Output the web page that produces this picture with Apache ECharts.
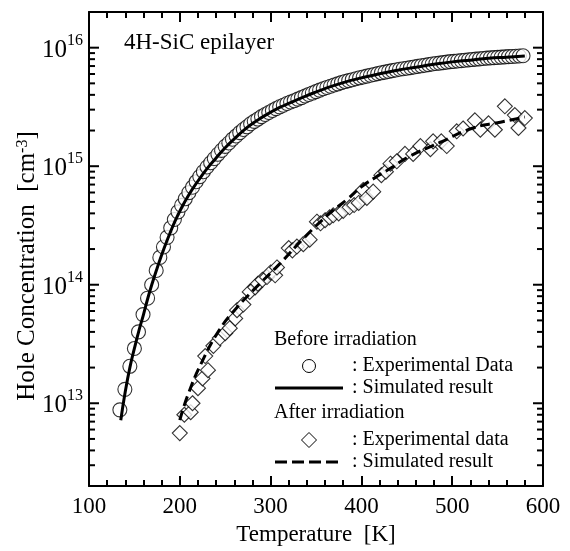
<!DOCTYPE html>
<html><head><meta charset="utf-8">
<script src="https://cdn.jsdelivr.net/npm/echarts@6/dist/echarts.min.js"></script>
<style>html,body{margin:0;padding:0;background:#fff}#c{width:570px;height:551px}</style>
</head><body><div id="c"></div>
<script>
const FONT = 'Liberation Serif';
const xMin = 100, xMax = 600, xStep = 100;
const yMin = 2e12, yMax = 2e16;
const yMajorTicks = [1e13, 1e14, 1e15, 1e16];
const yMinorTicks = [3e12,4e12,5e12,6e12,7e12,8e12,9e12,
  2e13,3e13,4e13,5e13,6e13,7e13,8e13,9e13,
  2e14,3e14,4e14,5e14,6e14,7e14,8e14,9e14,
  2e15,3e15,4e15,5e15,6e15,7e15,8e15,9e15];

// Before irradiation: experimental data (circles)
const beforeExpT = [134,139.5,145,150,154.5,159.5,164.5,169,174,178,182,186,190,194,198,202,206,210,214,218,222,226,230,234,238,242,246,250,254,258,262,266,270,274,278,282,286,290,294,298,302,306,310,314,318,322,326,330,334,338,342,346,350,354,358,362,366,370,374,378,382,386,390,394,398,402,406,410,414,418,422,426,430,434,438,442,446,450,454,458,462,466,470,474,478,482,486,490,494,498,502,506,510,514,518,522,526,530,534,538,542,546,550,554,558,562,566,570,574,578];
const beforeExpN = [8.8e12,1.31e13,2.05e13,2.9e13,4.0e13,5.6e13,7.7e13,1.0e14,1.32e14,1.7e14,2.08e14,2.51e14,3.02e14,3.55e14,4.12e14,4.67e14,5.31e14,5.98e14,6.65e14,7.40e14,8.17e14,8.99e14,9.84e14,1.07e15,1.16e15,1.26e15,1.36e15,1.47e15,1.57e15,1.69e15,1.80e15,1.92e15,2.04e15,2.15e15,2.28e15,2.39e15,2.50e15,2.62e15,2.73e15,2.84e15,2.95e15,3.06e15,3.17e15,3.27e15,3.38e15,3.48e15,3.57e15,3.68e15,3.79e15,3.91e15,4.03e15,4.14e15,4.26e15,4.38e15,4.50e15,4.62e15,4.73e15,4.84e15,4.95e15,5.07e15,5.18e15,5.27e15,5.37e15,5.47e15,5.57e15,5.66e15,5.75e15,5.85e15,5.94e15,6.04e15,6.14e15,6.22e15,6.31e15,6.40e15,6.49e15,6.58e15,6.64e15,6.71e15,6.79e15,6.87e15,6.95e15,7.03e15,7.11e15,7.19e15,7.28e15,7.35e15,7.41e15,7.48e15,7.55e15,7.62e15,7.67e15,7.73e15,7.78e15,7.83e15,7.89e15,7.94e15,8.00e15,8.05e15,8.11e15,8.17e15,8.20e15,8.24e15,8.28e15,8.32e15,8.36e15,8.40e15,8.43e15,8.47e15,8.51e15,8.55e15];

// Before irradiation: simulated result (solid line)
const beforeSimT = [135,140,145,150,155,160,165,170,175,180,185,190,195,200,210,220,230,240,250,260,270,280,290,300,310,320,340,360,380,400,420,440,460,480,500,520,540,560,580];
const beforeSimN = [7.2e12,1.26e13,2.0e13,2.9e13,4.1e13,5.6e13,7.8e13,1.05e14,1.38e14,1.78e14,2.26e14,2.82e14,3.47e14,4.17e14,5.75e14,7.5e14,9.55e14,1.175e15,1.43e15,1.70e15,2.0e15,2.29e15,2.57e15,2.85e15,3.13e15,3.39e15,3.94e15,4.52e15,5.07e15,5.56e15,6.03e15,6.46e15,6.84e15,7.24e15,7.59e15,7.85e15,8.13e15,8.32e15,8.51e15];

// After irradiation: experimental data (diamonds)
const afterExpT = [200,205,212,214,220,225,231,228,237,244,250,255,261,263,270,277,283,286,291,296,300,305,307,320,324,329,336,343,351,355,360,365,369,375,380,387,392,397,402,406,413,422,427,432,439,448,457,465,476,479,488,494,505,512,525,531,540,547,558,569,573,580];
const afterExpN = [5.6e12,8.0e12,8.4e12,1.0e13,1.34e13,1.62e13,1.9e13,2.5e13,3.05e13,3.55e13,3.9e13,4.3e13,5.2e13,6.1e13,6.8e13,8.7e13,9.5e13,1.02e14,1.1e14,1.16e14,1.27e14,1.2e14,1.4e14,2.04e14,1.95e14,2.1e14,2.2e14,2.4e14,3.4e14,3.3e14,3.5e14,3.7e14,3.85e14,4.0e14,4.2e14,4.5e14,4.7e14,4.9e14,6.3e14,5.4e14,6.1e14,8.4e14,9.0e14,1.05e15,1.1e15,1.27e15,1.27e15,1.48e15,1.39e15,1.62e15,1.62e15,1.48e15,1.97e15,2.08e15,2.44e15,2.03e15,2.3e15,2.03e15,3.2e15,2.7e15,2.1e15,2.55e15];

// After irradiation: simulated result (dashed line)
const afterSimT = [200,209,224,244,262,281,310,336,365,385,400,415,432,452,486,523,553,580];
const afterSimN = [7.2e12,1.18e13,2.2e13,4.2e13,6.3e13,9.0e13,1.5e14,2.45e14,4.0e14,5.3e14,6.7e14,8.0e14,9.6e14,1.2e15,1.58e15,2.1e15,2.35e15,2.6e15];

const zip = (a, b) => a.map((v, i) => [v, b[i]]);
const tickData = yMajorTicks.map(v => [xMin, v, 1]).concat(yMinorTicks.map(v => [xMin, v, 0]));

const chart = echarts.init(document.getElementById('c'), null, {renderer: 'canvas'});
const axisLine = {show: true, lineStyle: {color: '#000', width: 2}};
const xCommon = {
  type: 'value', min: xMin, max: xMax, interval: xStep,
  axisLine: axisLine,
  axisTick: {show: true, inside: true, length: 10, lineStyle: {color: '#000', width: 2}},
  minorTick: {show: true, splitNumber: 5, length: 6, lineStyle: {color: '#000', width: 2}},
  splitLine: {show: false}, minorSplitLine: {show: false}
};
const yCommon = {
  type: 'log', logBase: 10, min: yMin, max: yMax,
  axisLine: axisLine, axisTick: {show: false}, axisLabel: {show: false},
  splitLine: {show: false}, minorTick: {show: false}
};
chart.setOption({
  animation: false,
  backgroundColor: '#fff',
  grid: {left: 89, right: 27, top: 12, bottom: 53, containLabel: false},
  xAxis: [
    Object.assign({}, xCommon, {position: 'bottom',
      axisLabel: {show: true, color: '#000', fontFamily: FONT, fontSize: 23, margin: 9},
      name: 'Temperature  [K]', nameLocation: 'middle', nameGap: 29,
      nameTextStyle: {color: '#000', fontFamily: FONT, fontSize: 23}}),
    Object.assign({}, xCommon, {position: 'top', axisLabel: {show: false}})
  ],
  yAxis: [
    Object.assign({}, yCommon, {position: 'left'}),
    Object.assign({}, yCommon, {position: 'right'})
  ],
  series: [
    {
      type: 'custom', xAxisIndex: 0, yAxisIndex: 0, silent: true, z: 10,
      data: tickData, encode: {x: 0, y: 1},
      renderItem: function (params, api) {
        const v = api.value(1);
        const major = api.value(2) === 1;
        const pL = api.coord([xMin, v]);
        const pR = api.coord([xMax, v]);
        const len = major ? 10 : 6;
        const st = {stroke: '#000', lineWidth: 2};
        const children = [
          {type: 'line', shape: {x1: pL[0], y1: pL[1], x2: pL[0] + len, y2: pL[1]}, style: st},
          {type: 'line', shape: {x1: pR[0] - len, y1: pR[1], x2: pR[0], y2: pR[1]}, style: st}
        ];
        if (major) {
          const exp = Math.round(Math.log10(v));
          children.push({
            type: 'text', x: pL[0] - 6, y: pL[1],
            style: {
              text: '{b|10}{s|' + exp + '}', align: 'right', verticalAlign: 'middle',
              fill: '#000', fontFamily: FONT, fontSize: 25,
              rich: {
                b: {fontFamily: FONT, fontSize: 25, fill: '#000', lineHeight: 30, verticalAlign: 'bottom'},
                s: {fontFamily: FONT, fontSize: 16, fill: '#000', lineHeight: 16, verticalAlign: 'top'}
              }
            }
          });
        }
        return {type: 'group', children: children};
      }
    },
    {
      name: 'Before exp', type: 'scatter', data: zip(beforeExpT, beforeExpN),
      symbol: 'circle', symbolSize: 14, z: 2,
      itemStyle: {color: '#fff', borderColor: '#000', borderWidth: 1.1}
    },
    {
      name: 'Before sim', type: 'line', data: zip(beforeSimT, beforeSimN),
      showSymbol: false, smooth: true, z: 3,
      lineStyle: {color: '#000', width: 3}
    },
    {
      name: 'After exp', type: 'scatter', data: zip(afterExpT, afterExpN),
      symbol: 'diamond', symbolSize: 15, z: 2,
      itemStyle: {color: '#fff', borderColor: '#000', borderWidth: 1.1}
    },
    {
      name: 'After sim', type: 'line', data: zip(afterSimT, afterSimN),
      showSymbol: false, smooth: true, z: 3,
      lineStyle: {color: '#000', width: 3, type: [10, 5]}
    }
  ],
  graphic: [
    {type: 'text', x: 124, y: 43, style: {text: '4H-SiC epilayer', fontFamily: FONT, fontSize: 23, fill: '#000', align: 'left', verticalAlign: 'middle'}},
    {type: 'text', x: 27, y: 266, rotation: Math.PI / 2,
      style: {text: 'Hole Concentration  [cm{sup|-3}]', fontFamily: FONT, fontSize: 25, fill: '#000', align: 'center', verticalAlign: 'middle',
        rich: {sup: {fontFamily: FONT, fontSize: 16, fill: '#000', verticalAlign: 'top', lineHeight: 16}}}},
    {type: 'text', x: 274, y: 340, style: {text: 'Before irradiation', fontFamily: FONT, fontSize: 20, fill: '#000', verticalAlign: 'middle'}},
    {type: 'circle', shape: {cx: 309, cy: 366, r: 6.5}, style: {fill: '#fff', stroke: '#000', lineWidth: 1}},
    {type: 'text', x: 352, y: 366, style: {text: ': Experimental Data', fontFamily: FONT, fontSize: 20, fill: '#000', verticalAlign: 'middle'}},
    {type: 'line', shape: {x1: 275, y1: 388, x2: 343, y2: 388}, style: {stroke: '#000', lineWidth: 3}},
    {type: 'text', x: 352, y: 388, style: {text: ': Simulated result', fontFamily: FONT, fontSize: 20, fill: '#000', verticalAlign: 'middle'}},
    {type: 'text', x: 274, y: 413, style: {text: 'After irradiation', fontFamily: FONT, fontSize: 20, fill: '#000', verticalAlign: 'middle'}},
    {type: 'polygon', shape: {points: [[309, 432.5], [316.5, 440], [309, 447.5], [301.5, 440]]}, style: {fill: '#fff', stroke: '#000', lineWidth: 1}},
    {type: 'text', x: 352, y: 440, style: {text: ': Experimental data', fontFamily: FONT, fontSize: 20, fill: '#000', verticalAlign: 'middle'}},
    {type: 'line', shape: {x1: 275, y1: 462, x2: 343, y2: 462}, style: {stroke: '#000', lineWidth: 3, lineDash: [12, 5]}},
    {type: 'text', x: 352, y: 462, style: {text: ': Simulated result', fontFamily: FONT, fontSize: 20, fill: '#000', verticalAlign: 'middle'}}
  ]
});
</script>
</body></html>
